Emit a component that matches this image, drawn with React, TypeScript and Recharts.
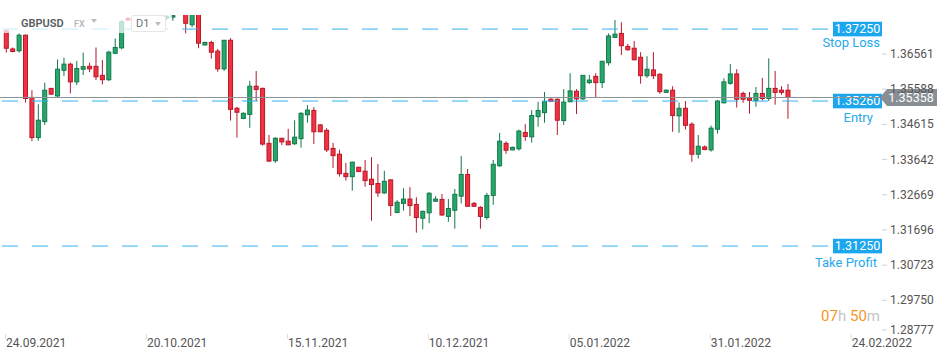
import { Bar, ComposedChart, ReferenceLine, XAxis, YAxis } from "recharts"

const FONT = "Roboto, 'Noto Sans', sans-serif"

// GBPUSD D1 candles, one per trading day (Sunday sessions included)
const opens = [
  1.372, 1.367, 1.3665, 1.3708, 1.3536, 1.3425, 1.3469, 1.3561, 1.354, 1.3611,
  1.3628, 1.3579, 1.3614, 1.3622, 1.3622, 1.3597, 1.3585, 1.3658, 1.3673, 1.3754,
  1.375, 1.374, 1.3805, 1.3812, 1.379, 1.3755, 1.3758, 1.377, 1.3785, 1.3737,
  1.3785, 1.3681, 1.3688, 1.3664, 1.3615, 1.3694, 1.3506, 1.3478, 1.3489, 1.3567,
  1.3561, 1.3409, 1.3361, 1.3423, 1.3415, 1.3408, 1.3422, 1.3488, 1.35, 1.346,
  1.3445, 1.3395, 1.3379, 1.3326, 1.3317, 1.3343, 1.3332, 1.331, 1.3298, 1.3272,
  1.3308, 1.3218, 1.3243, 1.3255, 1.324, 1.3202, 1.3217, 1.3249, 1.3254, 1.3207,
  1.3224, 1.3263, 1.3323, 1.3243, 1.3232, 1.3204, 1.3265, 1.3347, 1.3409, 1.3391,
  1.3394, 1.3439, 1.3427, 1.3483, 1.3494, 1.3531, 1.3531, 1.3472, 1.3524, 1.3553,
  1.3532, 1.3577, 1.3594, 1.3577, 1.3632, 1.3702, 1.3713, 1.3677, 1.3672, 1.3647,
  1.3596, 1.3612, 1.36, 1.355, 1.3556, 1.3485, 1.3506, 1.3462, 1.3379, 1.3399,
  1.3391, 1.3448, 1.3521, 1.3575, 1.3601, 1.3547, 1.3534, 1.3527, 1.3547, 1.3533,
  1.3561, 1.3556, 1.3556,
]
const highs = [
  1.3724, 1.3674, 1.3713, 1.371, 1.3556, 1.3517, 1.3577, 1.3562, 1.3641, 1.3646,
  1.3632, 1.3637, 1.366, 1.3632, 1.3674, 1.3639, 1.3665, 1.3699, 1.375, 1.3758,
  1.379, 1.383, 1.3834, 1.3832, 1.381, 1.3765, 1.38, 1.382, 1.38, 1.38,
  1.38, 1.369, 1.3693, 1.367, 1.3695, 1.37, 1.351, 1.3495, 1.3582, 1.3609,
  1.3563, 1.3432, 1.3426, 1.3424, 1.3449, 1.3473, 1.3495, 1.3515, 1.3509, 1.3462,
  1.3451, 1.341, 1.3391, 1.3355, 1.3358, 1.3344, 1.3363, 1.3371, 1.3352, 1.3333,
  1.331, 1.3252, 1.3285, 1.3288, 1.326, 1.3223, 1.3274, 1.3263, 1.3269, 1.3255,
  1.3283, 1.3374, 1.3338, 1.3247, 1.3235, 1.3272, 1.3363, 1.3438, 1.3415, 1.34,
  1.3447, 1.3462, 1.3501, 1.3524, 1.3551, 1.3534, 1.3533, 1.3559, 1.3603, 1.3559,
  1.3598, 1.3598, 1.3603, 1.3636, 1.3713, 1.375, 1.3744, 1.3684, 1.3692, 1.3661,
  1.365, 1.3661, 1.3603, 1.3558, 1.3567, 1.3522, 1.3526, 1.3467, 1.3432, 1.3403,
  1.3458, 1.3529, 1.3589, 1.3628, 1.3614, 1.3552, 1.3551, 1.3565, 1.359, 1.3644,
  1.3609, 1.3567, 1.3573,
]
const lows = [
  1.366, 1.3661, 1.366, 1.3522, 1.3415, 1.3416, 1.346, 1.3544, 1.3536, 1.3595,
  1.3547, 1.357, 1.3598, 1.3606, 1.3584, 1.3572, 1.3581, 1.3656, 1.3669, 1.3748,
  1.3722, 1.373, 1.3775, 1.3772, 1.374, 1.375, 1.3748, 1.3766, 1.3713, 1.373,
  1.3672, 1.368, 1.3643, 1.3607, 1.3609, 1.3472, 1.3425, 1.3476, 1.3452, 1.3526,
  1.3403, 1.3357, 1.3355, 1.3404, 1.3404, 1.3404, 1.3397, 1.3466, 1.3407, 1.344,
  1.3385, 1.3341, 1.3317, 1.3306, 1.3278, 1.333, 1.3289, 1.3195, 1.3261, 1.3269,
  1.3208, 1.3216, 1.3223, 1.3208, 1.3162, 1.3171, 1.3188, 1.3247, 1.3208, 1.3192,
  1.3173, 1.3243, 1.3234, 1.3233, 1.3173, 1.3198, 1.3239, 1.3344, 1.338, 1.339,
  1.3389, 1.3416, 1.3411, 1.3455, 1.3466, 1.3524, 1.3432, 1.346, 1.3523, 1.349,
  1.3529, 1.3573, 1.3536, 1.3562, 1.3624, 1.3701, 1.3653, 1.3665, 1.3639, 1.3574,
  1.359, 1.3587, 1.3546, 1.3549, 1.3441, 1.3438, 1.3447, 1.3358, 1.3367, 1.339,
  1.3386, 1.3436, 1.352, 1.3571, 1.3508, 1.3521, 1.3491, 1.351, 1.3527, 1.3526,
  1.3516, 1.3543, 1.3477,
]
const closes = [
  1.3672, 1.3663, 1.3708, 1.3533, 1.3425, 1.3473, 1.3556, 1.3545, 1.3614, 1.3628,
  1.3579, 1.3616, 1.3621, 1.3615, 1.3593, 1.3585, 1.3661, 1.3674, 1.3745, 1.375,
  1.374, 1.3805, 1.3812, 1.379, 1.376, 1.376, 1.3762, 1.3785, 1.3741, 1.3785,
  1.3686, 1.3688, 1.3661, 1.3615, 1.3694, 1.3503, 1.3495, 1.3492, 1.3567, 1.3558,
  1.3407, 1.336, 1.3423, 1.3413, 1.3405, 1.3426, 1.3492, 1.3501, 1.3441, 1.3441,
  1.3391, 1.3375, 1.3325, 1.3317, 1.3357, 1.3331, 1.3306, 1.3295, 1.3272, 1.3304,
  1.3237, 1.3246, 1.3255, 1.3237, 1.3204, 1.3221, 1.3271, 1.3255, 1.3211, 1.3229,
  1.3268, 1.3323, 1.3235, 1.3235, 1.3207, 1.3265, 1.3351, 1.3415, 1.339, 1.3398,
  1.3443, 1.3428, 1.3486, 1.35, 1.3524, 1.3525, 1.3473, 1.3523, 1.3554, 1.3532,
  1.3597, 1.3584, 1.3577, 1.3636, 1.3706, 1.3711, 1.3679, 1.3668, 1.364, 1.3596,
  1.3614, 1.3596, 1.3552, 1.3556, 1.3486, 1.3506, 1.3459, 1.3379, 1.3401, 1.3392,
  1.3451, 1.3526, 1.3579, 1.3601, 1.3531, 1.3531, 1.3528, 1.3547, 1.3533, 1.3561,
  1.355, 1.355, 1.35358,
]

const dateTicks = [0, 22, 44, 66, 88, 110, 132]
const dateLabels = [
  "24.09.2021",
  "20.10.2021",
  "15.11.2021",
  "10.12.2021",
  "05.01.2022",
  "31.01.2022",
  "24.02.2022",
]
const priceTicks = [
  1.28777, 1.2975, 1.30723, 1.31696, 1.32669, 1.33642, 1.34615, 1.35588, 1.36561,
]

const levelValues = [1.3725, 1.3526, 1.3125]
const levelNames = ["Stop Loss", "Entry", "Take Profit"]
const lastPrice = 1.35358

const candles = opens.map((open, i) => ({
  i,
  open,
  high: highs[i],
  low: lows[i],
  close: closes[i],
  range: [lows[i], highs[i]],
}))

function Candle(props: any) {
  const { x, y, width, height, payload } = props
  const { open, close, high, low } = payload
  const up = close >= open
  const toY = (p: number) => y + ((high - p) / (high - low || 1)) * height
  const top = toY(Math.max(open, close))
  const bottom = toY(Math.min(open, close))
  const cx = x + width / 2
  const fill = up ? "#26a86c" : "#f4323f"
  const edge = up ? "#137849" : "#b5182b"
  return (
    <g>
      <line x1={cx} x2={cx} y1={y} y2={y + height} stroke={edge} strokeWidth={1} />
      <rect
        x={x + 0.5}
        y={top}
        width={width - 1}
        height={Math.max(bottom - top, 1)}
        fill={fill}
        stroke={edge}
        strokeWidth={1}
      />
    </g>
  )
}

function DateTick({ x, payload }: any) {
  const label = dateLabels[dateTicks.indexOf(payload.value)]
  return (
    <g>
      <line x1={x - 0.5} x2={x - 0.5} y1={334} y2={339} stroke="#dddddd" />
      <text x={x} y={347} fill="#555" fontSize={12} fontFamily={FONT}>
        {label}
      </text>
    </g>
  )
}

function PriceTick({ y, payload }: any) {
  const ty = Math.min(y, 330)
  return (
    <g>
      <line x1={882} x2={887} y1={ty} y2={ty} stroke="#d0d0d0" />
      <text x={890} y={ty + 4} fill="#555" fontSize={12} fontFamily={FONT}>
        {payload.value.toFixed(5)}
      </text>
    </g>
  )
}

const nameDy = [17.5, 21, 21.3]
const nameRight = [880, 873, 877]

function levelShape(k: number) {
  return (p: any) => {
    const y = p.y1
    const left = Math.min(p.x1, p.x2)
    return (
      <g>
        <line
          x1={left}
          x2={828}
          y1={y}
          y2={y}
          stroke="#33b1ee"
          strokeWidth={1}
          strokeDasharray="16 14"
          strokeDashoffset={-2}
        />
        <rect x={833} y={y - 7.3} width={49} height={14.6} fill="#1ba6ee" />
        <text
          x={857.5}
          y={y + 4.3}
          textAnchor="middle"
          fill="#fff"
          fontSize={12.5}
          fontFamily={FONT}
        >
          {levelValues[k].toFixed(5)}
        </text>
        <text
          x={nameRight[k]}
          y={y + nameDy[k]}
          textAnchor="end"
          fill="#27a9e9"
          fontSize={13}
          fontFamily={FONT}
        >
          {levelNames[k]}
        </text>
      </g>
    )
  }
}

function lastPriceShape(p: any) {
  const y = p.y1
  const left = Math.min(p.x1, p.x2)
  return (
    <g>
      <line x1={left} x2={880} y1={y} y2={y} stroke="#8d9297" strokeWidth={1} />
      <path
        d={`M880,${y} L887,${y - 8.5} L937,${y - 8.5} L937,${y + 8.5} L887,${y + 8.5} Z`}
        fill="#878e94"
      />
      <text
        x={911}
        y={y + 4.5}
        textAnchor="middle"
        fill="#fff"
        fontSize={12.5}
        fontFamily={FONT}
      >
        {lastPrice.toFixed(5)}
      </text>
    </g>
  )
}

export default function App() {
  return (
    <div
      style={{
        position: "absolute",
        left: 0,
        top: 0,
        width: 950,
        height: 361,
        background: "#fff",
        fontFamily: FONT,
      }}
    >
      <ComposedChart
        width={950}
        height={361}
        data={candles}
        margin={{ top: 15, right: 0, bottom: 0, left: 0 }}
      >
        <XAxis
          dataKey="i"
          type="number"
          domain={[-0.9365, 147.18]}
          ticks={dateTicks}
          interval={0}
          height={25.5}
          axisLine={false}
          tickLine={false}
          allowDataOverflow
          tick={<DateTick />}
        />
        <YAxis
          orientation="right"
          width={1}
          domain={[1.28777, 1.37639]}
          ticks={priceTicks}
          interval={0}
          axisLine={false}
          tickLine={false}
          allowDataOverflow
          tick={<PriceTick />}
        />
        <Bar
          dataKey="range"
          barSize={5}
          shape={<Candle />}
          isAnimationActive={false}
        />
        {levelValues.map((v, k) => (
          <ReferenceLine key={v} y={v} shape={levelShape(k)} />
        ))}
        <ReferenceLine y={lastPrice} shape={lastPriceShape} />
      </ComposedChart>

      <div
        style={{
          position: "absolute",
          left: 0,
          top: 15,
          width: 172,
          height: 18,
          background: "rgba(255,255,255,0.72)",
        }}
      />
      <div
        style={{
          position: "absolute",
          left: 21,
          top: 16,
          fontSize: 11,
          fontWeight: 600,
          color: "#565c61",
          lineHeight: "15px",
        }}
      >
        GBPUSD
      </div>
      <div
        style={{
          position: "absolute",
          left: 74,
          top: 18,
          fontSize: 9,
          fontWeight: 600,
          color: "#b5b9bd",
          lineHeight: "13px",
        }}
      >
        FX
      </div>
      <div
        style={{
          position: "absolute",
          left: 91,
          top: 19,
          width: 0,
          height: 0,
          borderLeft: "3.5px solid transparent",
          borderRight: "3.5px solid transparent",
          borderTop: "4px solid #b8bcc0",
        }}
      />
      <div
        style={{
          position: "absolute",
          left: 131,
          top: 15,
          width: 33,
          height: 15,
          border: "1px solid #e3e5e7",
          borderRadius: 3,
          background: "#fff",
        }}
      >
        <span
          style={{
            position: "absolute",
            left: 4,
            top: 0,
            fontSize: 11,
            color: "#6b7075",
            lineHeight: "15px",
          }}
        >
          D1
        </span>
        <div
          style={{
            position: "absolute",
            left: 23,
            top: 6,
            width: 0,
            height: 0,
            borderLeft: "3.5px solid transparent",
            borderRight: "3.5px solid transparent",
            borderTop: "4px solid #b8bcc0",
          }}
        />
      </div>

      <div
        style={{
          position: "absolute",
          right: 950 - 880,
          top: 307,
          fontSize: 15,
          lineHeight: "18px",
          whiteSpace: "pre",
        }}
      >
        <span style={{ color: "#f7961e" }}>07</span>
        <span style={{ color: "#c4c4c4" }}>h </span>
        <span style={{ color: "#f7961e" }}>50</span>
        <span style={{ color: "#c4c4c4" }}>m</span>
      </div>
    </div>
  )
}
